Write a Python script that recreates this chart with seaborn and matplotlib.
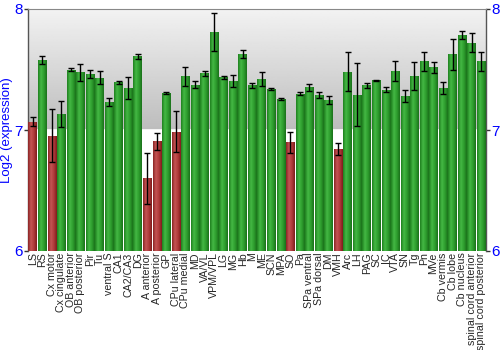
import numpy as np
import pandas as pd
import matplotlib
matplotlib.use("Agg")
import matplotlib.pyplot as plt
import seaborn as sns
from matplotlib.colors import LinearSegmentedColormap

categories = ["LS", "RS", "Cx motor", "Cx cingulate", "OB anterior", "OB posterior", "Pir", "Tu",
              "ventral S", "CA1", "CA2/CA3", "DG", "A anterior", "A posterior", "GP", "CPu lateral",
              "CPu medial", "MD", "VA/VL", "VPM/VPL", "LG", "MG", "Hb", "M", "ME", "SCN", "MPA", "SO",
              "Pa", "SPa ventral", "SPa dorsal", "DM", "VMH", "Arc", "LH", "PAG", "SC", "IC", "VTA", "SN",
              "Tg", "Pn", "MVe", "Cb vermis", "Cb lobe", "Cb nucleus", "spinal cord anterior",
              "spinal cord posterior"]
values = [7.069, 7.579, 6.953, 7.132, 7.500, 7.479, 7.463, 7.432,
          7.231, 7.394, 7.350, 7.609, 6.600, 6.906, 7.306, 6.986,
          7.444, 7.375, 7.468, 7.812, 7.435, 7.408, 7.628, 7.369, 7.419, 7.339, 7.259, 6.898,
          7.300, 7.353, 7.287, 7.248, 6.843, 7.482, 7.292, 7.369, 7.410, 7.333, 7.488, 7.278,
          7.446, 7.568, 7.518, 7.350, 7.628, 7.785, 7.722, 7.568]
errors = [0.04, 0.03, 0.22, 0.11, 0.015, 0.07, 0.03, 0.055,
          0.03, 0.015, 0.09, 0.02, 0.21, 0.07, 0.005, 0.17,
          0.08, 0.03, 0.02, 0.157, 0.015, 0.05, 0.035, 0.02, 0.058, 0.01, 0.007, 0.085,
          0.014, 0.03, 0.023, 0.036, 0.05, 0.163, 0.26, 0.02, 0.005, 0.02, 0.085, 0.05,
          0.115, 0.08, 0.045, 0.05, 0.128, 0.035, 0.076, 0.08]
low_flag = [1, 0, 1, 0, 0, 0, 0, 0, 0, 0, 0, 0, 1, 1, 0, 1,
            0, 0, 0, 0, 0, 0, 0, 0, 0, 0, 0, 1,
            0, 0, 0, 0, 1, 0, 0, 0, 0, 0, 0, 0,
            0, 0, 0, 0, 0, 0, 0, 0]
yticks = [6, 7, 8]

df = pd.DataFrame({"region": categories, "value": values, "err": errors,
                   "group": ["low" if f else "high" for f in low_flag]})

sns.set_style("white")
plt.rcParams['font.family'] = ['Liberation Sans', 'DejaVu Sans']

fig = plt.figure(figsize=(5, 3.5), dpi=100)
ax = fig.add_axes([28 / 500, 1 - 251 / 350, 458 / 500, 242 / 350])

red = "#b03a3a"
green = "#2e9e2e"
sns.barplot(data=df, x="region", y="value", hue="group", order=categories,
            palette={"low": red, "high": green}, dodge=False, width=0.9,
            legend=False, ax=ax, zorder=3, linewidth=0, errorbar=None)

n = len(categories)
ax.set_xlim(-0.5, n - 0.5)
ax.set_ylim(6, 8)

# background gradient above 7
bg = np.linspace(0.74, 0.95, 100).reshape(-1, 1)
ax.imshow(bg, extent=(-0.5, n - 0.5, 7, 8), origin="lower", cmap="gray", vmin=0, vmax=1,
          aspect="auto", zorder=0, interpolation="bilinear")
ax.axhline(7, color="white", lw=1.2, zorder=1)

# cylindrical shading on bars
red_cmap = LinearSegmentedColormap.from_list("r", ["#8a2424", "#c45454", "#b03a3a", "#7e1c1c"])
green_cmap = LinearSegmentedColormap.from_list("g", ["#1f7f1f", "#44b844", "#2e9e2e", "#1a701a"])
grad = np.linspace(0, 1, 64).reshape(1, -1)
for patch in list(ax.patches):
    h = patch.get_height()
    if not np.isfinite(h) or h == 0:
        continue
    x0 = patch.get_x()
    w = patch.get_width()
    idx = int(round(x0 + w / 2))
    flag = low_flag[idx]
    patch.set_facecolor(red if flag else green)
    im = ax.imshow(grad, extent=(x0, x0 + w, 6, h), aspect="auto",
                   cmap=red_cmap if flag else green_cmap, zorder=4, interpolation="bilinear")
    im.set_clip_path(patch)

ax.errorbar(np.arange(n), values, yerr=errors, fmt="none", ecolor="black",
            elinewidth=1, capsize=2, capthick=1, zorder=5)

ax.set_xlim(-0.5, n - 0.5)
ax.set_ylim(6, 8)
ax.set_yticks(yticks)
ax.set_yticklabels([str(t) for t in yticks])
ax.tick_params(axis="y", which="both", left=True, right=True, labelleft=True, labelright=True,
               length=3, width=1, color="#333333", labelcolor="blue", labelsize=11, pad=1)
ax.tick_params(axis="x", length=0, pad=1, labelsize=7.7)
plt.setp(ax.get_xticklabels(), rotation=90)
ax.set_xlabel("")
ax.set_ylabel("Log2 (expression)", color="blue", fontsize=9.5, labelpad=1)

for s in ["left", "right"]:
    ax.spines[s].set_color("#555555")
    ax.spines[s].set_linewidth(1)
ax.spines["top"].set_color("#888888")
ax.spines["bottom"].set_visible(False)

fig.savefig("out.png", dpi=100)
